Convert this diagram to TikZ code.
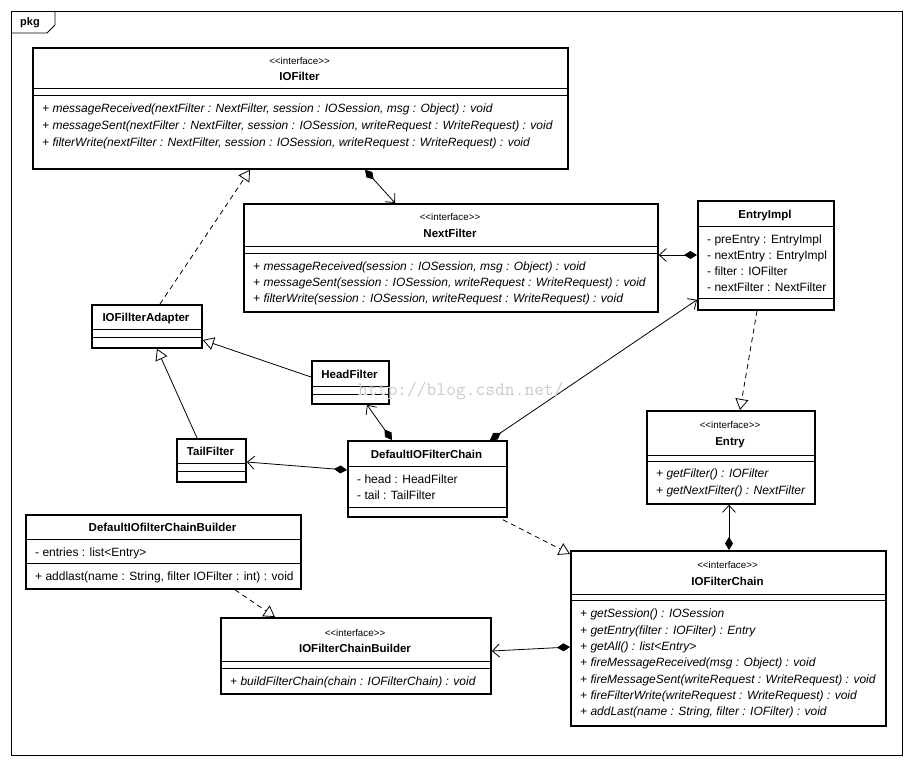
\documentclass[tikz,border=0pt]{standalone}
\usepackage{fontspec}
\setmainfont{Liberation Sans}
\usetikzlibrary{arrows.meta,calc}
\begin{document}
\begin{tikzpicture}[x=1pt,y=-1pt,
  box/.style={draw,line width=1.8pt,inner sep=0,anchor=north west},
  sepline/.style={line width=0.8pt},
  ster/.style={font=\fontsize{9.8}{11}\selectfont,anchor=mid,inner sep=0,yshift=-1.5pt},
  cname/.style={font=\fontsize{11.5}{13}\selectfont\bfseries,anchor=mid,inner sep=0,yshift=-1.5pt},
  op/.style={font=\fontsize{12}{13}\selectfont\itshape,anchor=mid west,inner sep=0,yshift=-1.5pt},
  attr/.style={font=\fontsize{12}{13}\selectfont,anchor=mid west,inner sep=0,yshift=-1.5pt},
  conn/.style={line width=0.8pt},
  dconn/.style={conn,dash pattern=on 5pt off 4pt},
  vee/.style={-{Straight Barb[length=7pt,width=13pt,line width=0.8pt]}},
  tri/.style={-{Triangle[open,length=11pt,width=13pt,fill=white,line width=0.8pt]}},
  dia/.style={{Diamond[length=13pt,width=8pt]}-{Straight Barb[length=7pt,width=13pt,line width=0.8pt]}}
]
\useasboundingbox (0,0) rectangle (912,765);
\fill[white] (0,0) rectangle (912,765);
% frame
\draw[line width=0.8pt] (11,11) rectangle (902,755);
\draw[line width=0.8pt] (11,33) -- (47,33) -- (55,25) -- (55,11);
\node[font=\fontsize{11}{13}\selectfont\bfseries,anchor=mid,inner sep=0,yshift=-1pt] (pkg) at (30,22) {pkg};

% IOFilter
\node[box,minimum width=535pt,minimum height=121pt] (iofilter) at (32,47) {};
\node[ster] (iofilterS) at (299.5,60) {<{}<interface>{}>};
\node[cname] (iofilterN) at (299.5,76) {IOFilter};
\draw[sepline] (32,88) -- (567,88) (32,95) -- (567,95);
\node[op] (iofilterO1) at (42,108) {+ messageReceived(nextFilter : NextFilter, session : IOSession, msg : Object) : void};
\node[op] (iofilterO2) at (42,125) {+ messageSent(nextFilter : NextFilter, session : IOSession, writeRequest : WriteRequest) : void};
\node[op] (iofilterO3) at (42,142) {+ filterWrite(nextFilter : NextFilter, session : IOSession, writeRequest : WriteRequest) : void};

% NextFilter
\node[box,minimum width=414pt,minimum height=108pt] (nextfilter) at (243,203) {};
\node[ster] (nextfilterS) at (450,216) {<{}<interface>{}>};
\node[cname] (nextfilterN) at (450,233) {NextFilter};
\draw[sepline] (243,246) -- (657,246) (243,253) -- (657,253);
\node[op] (nextfilterO1) at (253,266) {+ messageReceived(session : IOSession, msg : Object) : void};
\node[op] (nextfilterO2) at (253,282) {+ messageSent(session : IOSession, writeRequest : WriteRequest) : void};
\node[op] (nextfilterO3) at (253,298) {+ filterWrite(session : IOSession, writeRequest : WriteRequest) : void};

% EntryImpl
\node[box,minimum width=136pt,minimum height=109pt] (entryimpl) at (697,200) {};
\node[cname] (entryimplN) at (765,214) {EntryImpl};
\draw[sepline] (697,226) -- (833,226) (697,298) -- (833,298);
\node[attr] (entryimplA1) at (707,239) {- preEntry : EntryImpl};
\node[attr] (entryimplA2) at (707,255) {- nextEntry : EntryImpl};
\node[attr] (entryimplA3) at (707,271) {- filter : IOFilter};
\node[attr] (entryimplA4) at (707,287) {- nextFilter : NextFilter};

% IOFilterAdapter
\node[box,minimum width=110pt,minimum height=43pt] (adapter) at (91,304) {};
\node[cname] (adapterN) at (146,317) {IOFillterAdapter};
\draw[sepline] (91,329) -- (201,329) (91,337) -- (201,337);

% HeadFilter
\node[box,minimum width=77pt,minimum height=43pt] (headf) at (311,360) {};
\node[cname] (headfN) at (349.5,374) {HeadFilter};
\draw[sepline] (311,386) -- (388,386) (311,394) -- (388,394);

% TailFilter
\node[box,minimum width=69pt,minimum height=43pt] (tailf) at (176,438) {};
\node[cname] (tailfN) at (210.5,451) {TailFilter};
\draw[sepline] (176,463) -- (245,463) (176,471) -- (245,471);

% DefaultIOFilterChain
\node[box,minimum width=159pt,minimum height=76pt] (dchain) at (347,440) {};
\node[cname] (dchainN) at (426.5,454) {DefaultIOFilterChain};
\draw[sepline] (347,466) -- (506,466) (347,507) -- (506,507);
\node[attr] (dchainA1) at (357,479) {- head : HeadFilter};
\node[attr] (dchainA2) at (357,495) {- tail : TailFilter};

% Entry
\node[box,minimum width=168pt,minimum height=93pt] (entry) at (646,410) {};
\node[ster] (entryS) at (730,424) {<{}<interface>{}>};
\node[cname] (entryN) at (730,441) {Entry};
\draw[sepline] (646,455) -- (814,455) (646,461) -- (814,461);
\node[op] (entryO1) at (656,473) {+ getFilter() : IOFilter};
\node[op] (entryO2) at (656,490) {+ getNextFilter() : NextFilter};

% DefaultIOfilterChainBuilder
\node[box,minimum width=275pt,minimum height=74pt] (dbuilder) at (25,514) {};
\node[cname] (dbuilderN) at (162.5,527) {DefaultIOfilterChainBuilder};
\draw[sepline] (25,539) -- (300,539) (25,563) -- (300,563);
\node[attr] (dbuilderA1) at (35,552) {- entries : list<Entry>};
\node[attr] (dbuilderO1) at (35,576) {+ addlast(name : String, filter IOFilter : int) : void};

% IOFilterChainBuilder
\node[box,minimum width=270pt,minimum height=76pt] (builder) at (220,617) {};
\node[ster] (builderS) at (355,632) {<{}<interface>{}>};
\node[cname] (builderN) at (355,648) {IOFilterChainBuilder};
\draw[sepline] (220,661) -- (490,661) (220,668) -- (490,668);
\node[op] (builderO1) at (230,681) {+ buildFilterChain(chain : IOFilterChain) : void};

% IOFilterChain
\node[box,minimum width=315pt,minimum height=175pt] (iochain) at (570,550) {};
\node[ster] (iochainS) at (727.5,564) {<{}<interface>{}>};
\node[cname] (iochainN) at (727.5,581) {IOFilterChain};
\draw[sepline] (570,594) -- (885,594) (570,600) -- (885,600);
\node[op] (iochainO1) at (580,613) {+ getSession() : IOSession};
\node[op] (iochainO2) at (580,630) {+ getEntry(filter : IOFilter) : Entry};
\node[op] (iochainO3) at (580,646) {+ getAll() : list<Entry>};
\node[op] (iochainO4) at (580,662) {+ fireMessageReceived(msg : Object) : void};
\node[op] (iochainO5) at (580,679) {+ fireMessageSent(writeRequest : WriteRequest) : void};
\node[op] (iochainO6) at (580,695) {+ fireFilterWrite(writeRequest : WriteRequest) : void};
\node[op] (iochainO7) at (580,711) {+ addLast(name : String, filter : IOFilter) : void};

% connectors
\draw[dconn,tri] ($(adapter.north west)+(69,0)$) -- ($(iofilter.south west)+(218,0)$);
\draw[conn,dia] ($(iofilter.south west)+(333,0)$) -- ($(nextfilter.north west)+(152,0)$);
\draw[conn,dia] ($(entryimpl.north west)+(0,55)$) -- ($(nextfilter.north east)+(0,52)$);
\draw[dconn,tri] ($(entryimpl.south west)+(60,0)$) -- ($(entry.north west)+(94,0)$);
\draw[conn,dia] ($(dchain.north west)+(143,0)$) -- ($(entryimpl.south west)+(0,-11)$);
\draw[conn,dia] ($(dchain.north west)+(45,0)$) -- ($(headf.south west)+(56,0)$);
\draw[conn,dia] ($(dchain.north west)+(0,30)$) -- ($(tailf.north east)+(0,24)$);
\draw[conn,tri] ($(headf.north west)+(0,17)$) -- ($(adapter.north east)+(0,36)$);
\draw[conn,tri] ($(tailf.north west)+(21,0)$) -- ($(adapter.south west)+(66,0)$);
\draw[dconn,tri] ($(dchain.south west)+(156,2)$) -- ($(iochain.north west)+(0,4)$);
\draw[conn,dia] ($(iochain.north west)+(159,0)$) -- ($(entry.south west)+(83,0)$);
\draw[conn,dia] ($(iochain.north west)+(0,97)$) -- ($(builder.north east)+(0,34)$);
\draw[dconn,tri] ($(dbuilder.south west)+(210,0)$) -- ($(builder.north west)+(55,0)$);

% watermark
\node[font=\ttfamily\fontsize{19}{20}\selectfont,text=black!20,anchor=mid west,inner sep=0] (wm) at (358,393) {http://blog.csdn.net/};
\end{tikzpicture}
\end{document}
